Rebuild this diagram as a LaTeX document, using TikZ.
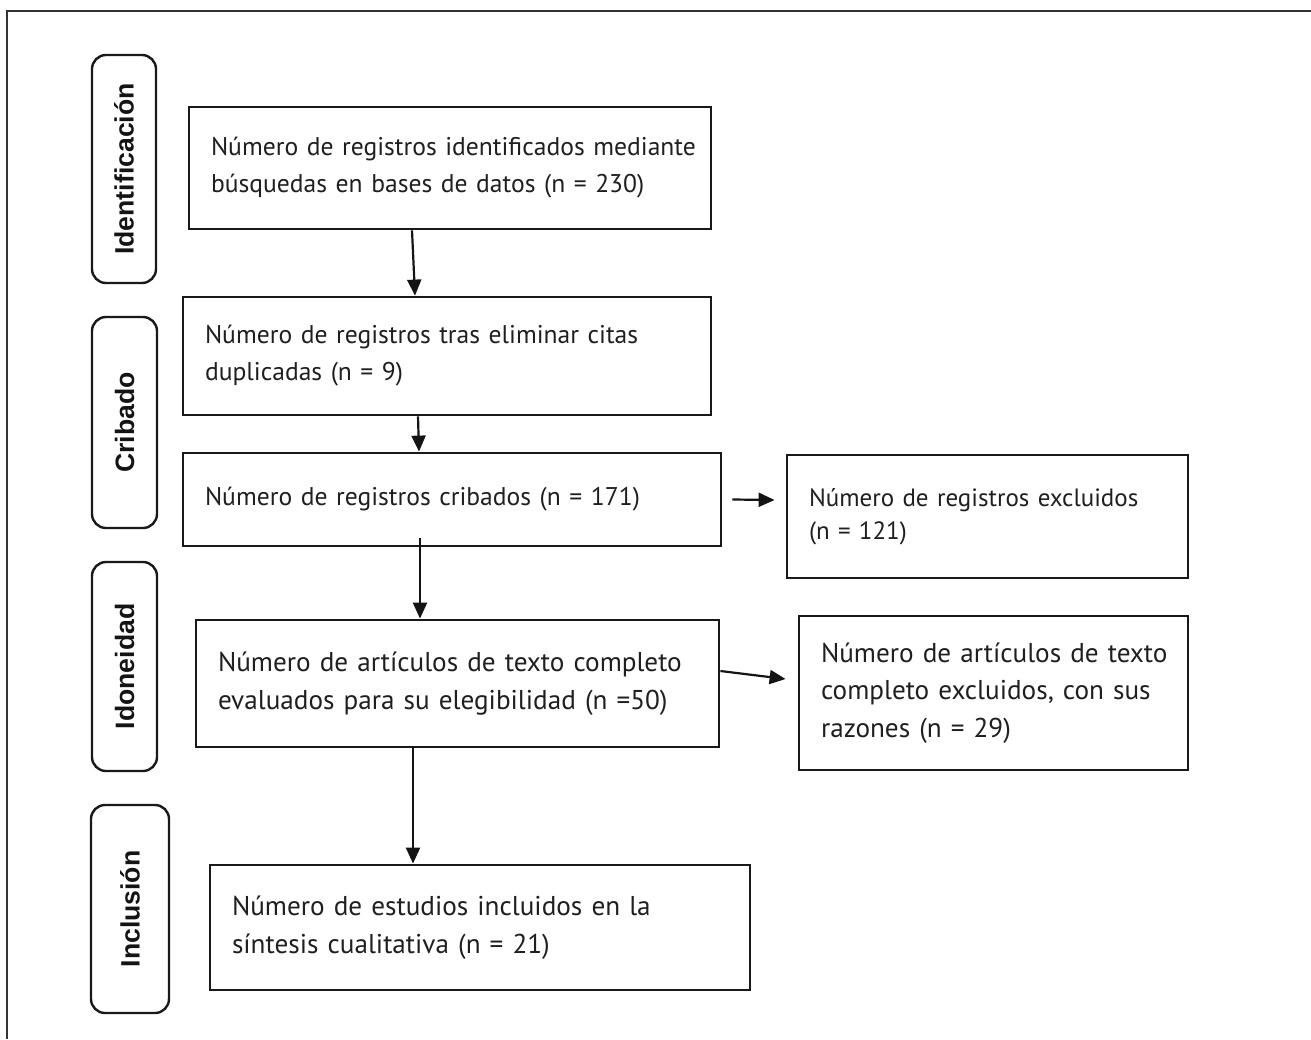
\documentclass[tikz,border=0pt]{standalone}
\usepackage{fontspec}
\setmainfont{PT Sans}[WordSpace=0.8]
\newfontfamily\sidefont{Liberation Sans}
\usetikzlibrary{arrows.meta,calc}
\begin{document}
\begin{tikzpicture}[x=0.5pt,y=-0.5pt,
  box/.style={draw=black!90, line width=1.4pt, rectangle, inner xsep=11pt, inner ysep=0pt,
    align=left, text=black!88},
  ftA/.style={font=\fontsize{12.8}{18.5}\selectfont},
  ftB/.style={font=\fontsize{13.6}{18.7}\selectfont},
  ftC/.style={font=\fontsize{12.5}{16.5}\selectfont},
  side/.style={draw=black!90, line width=1.2pt, rounded corners=7pt, rotate=90,
    font=\sidefont\bfseries\fontsize{13.3}{15}\selectfont, inner sep=0pt, text=black!92},
  arr/.style={line width=1.1pt, draw=black!92, -{Triangle[length=8pt,width=7pt]}},
  frame/.style={line width=1pt, draw=black!80}]
\useasboundingbox (0,0) rectangle (1311,1039);
\draw[frame] (7,1039) -- (7,10.5) -- (1311,10.5);

% side labels
\node[side, minimum width=114pt, minimum height=32pt] (s1) at (124,169) {Identificación};
\node[side, minimum width=105.5pt, minimum height=32.5pt] (s2) at (124.5,422.5) {Cribado};
\node[side, minimum width=104.5pt, minimum height=32.5pt] (s3) at (124.5,666.5) {Idoneidad};
\node[side, minimum width=104pt, minimum height=39pt] (s4) at (130,909) {Inclusión};

% boxes
\node[box, ftA, minimum width=261pt, minimum height=61pt, text width=239pt] (b1) at (450,168)
  {\mbox{Número de registros identificados mediante}\\\mbox{búsquedas en bases de datos (n = 230)}};
\node[box, ftA, minimum width=264pt, minimum height=59pt, text width=242pt] (b2) at (447,356)
  {\mbox{Número de registros tras eliminar citas}\\\mbox{duplicadas (n = 9)}};
\node[box, ftA, minimum width=269pt, minimum height=46.5pt, text width=247pt] (b3) at (452,499.5)
  {\mbox{Número de registros cribados (n = 171)}};
\node[box, ftC, minimum width=200.5pt, minimum height=61.5pt, text width=178.5pt] (b4) at (987.5,516.5)
  {\mbox{Número de registros excluidos}\\\mbox{(n = 121)}};
\node[box, ftB, minimum width=261.5pt, minimum height=63.5pt, text width=239.5pt] (b5) at (457.5,683.5)
  {\mbox{Número de artículos de texto completo}\\\mbox{evaluados para su elegibilidad (n =50)}};
\node[box, ftB, minimum width=194.5pt, minimum height=77pt, text width=172.5pt] (b6) at (993.5,693)
  {\mbox{Número de artículos de texto}\\\mbox{completo excluidos, con sus}\\\mbox{razones (n = 29)}};
\node[box, ftB, minimum width=270pt, minimum height=62.5pt, text width=248pt] (b7) at (480,927.5)
  {\mbox{Número de estudios incluidos en la}\\\mbox{síntesis cualitativa (n = 21)}};

% connectors
\draw[arr] ([xshift=-19pt]b1.south) -- ([xshift=-16pt]b2.north);
\draw[arr] ([xshift=-14.5pt]b2.south) -- ([xshift=-16.5pt]b3.north);
\draw[arr] ([xshift=-16pt,yshift=4.5pt]b3.south) -- ([xshift=-18.75pt]b5.north);
\draw[arr] ([xshift=5pt]b3.east) -- ([xshift=-5.5pt,yshift=8.25pt]b4.west);
\draw[arr] ([yshift=6.25pt]b5.east) -- ([xshift=-6pt,yshift=7pt]b6.west);
\draw[arr] ([xshift=-22.25pt]b5.south) -- ([xshift=-33.5pt]b7.north);
\end{tikzpicture}
\end{document}
